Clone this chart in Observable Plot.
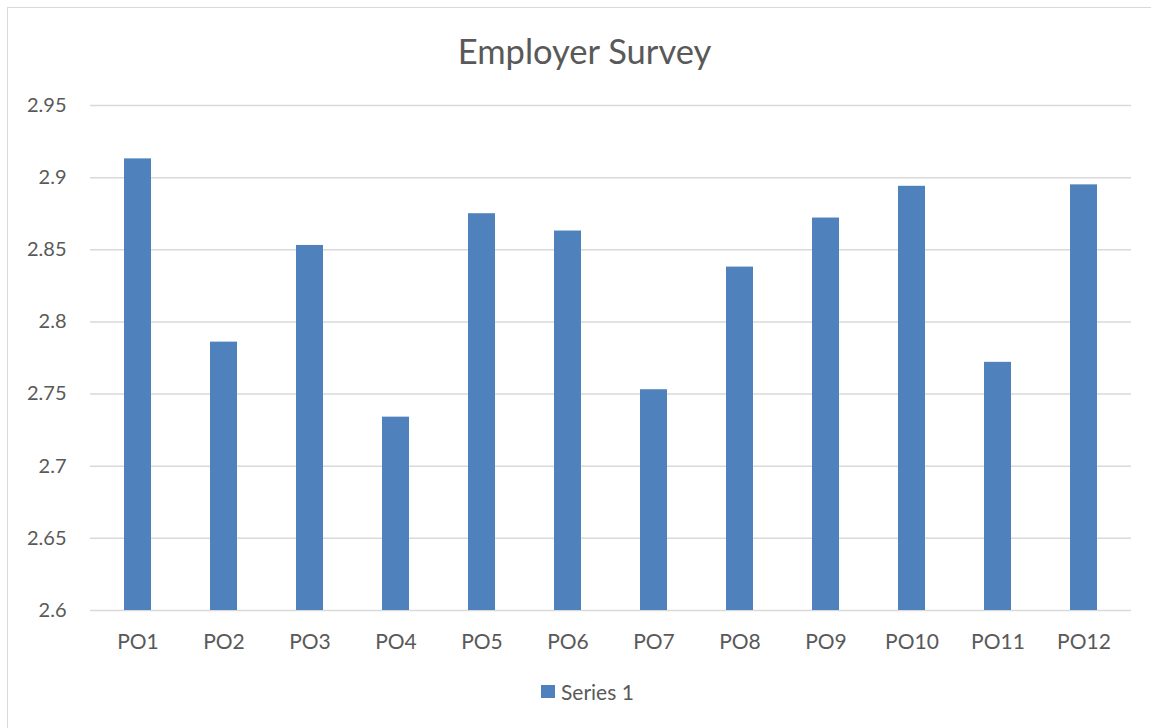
<!DOCTYPE html>
<html>
<head>
<meta charset="utf-8">
<script src="https://cdn.jsdelivr.net/npm/d3@7"></script>
<script src="https://cdn.jsdelivr.net/npm/@observablehq/plot@0.6"></script>
<style>
  html, body { margin: 0; padding: 0; background: #fff; }
  #frame { position: absolute; left: 7px; top: 7px; width: 1150px; height: 730px;
           border-left: 1.5px solid #d9d9d9; border-top: 1.5px solid #d9d9d9; box-sizing: border-box; }
  #title { position: absolute; left: 0; top: 30px; width: 1169px; text-align: center;
           font-family: Lato, "Open Sans", sans-serif; font-size: 34.5px; color: #595959; }
  #chart { position: absolute; left: 0; top: 80px; }
  #legend { position: absolute; left: 541px; top: 679px; font-family: Lato, "Open Sans", sans-serif;
            font-size: 21px; color: #595959; display: flex; align-items: center; }
  #legend .sw { width: 14px; height: 13px; background: #4f81bd; margin-right: 6px; }
</style>
</head>
<body>
<div id="frame"></div>
<div id="title">Employer Survey</div>
<div id="chart"></div>
<div id="legend"><span class="sw"></span><span>Series 1</span></div>
<script>
const categories = ["PO1","PO2","PO3","PO4","PO5","PO6","PO7","PO8","PO9","PO10","PO11","PO12"];
const values = [2.913, 2.786, 2.853, 2.734, 2.875, 2.863, 2.753, 2.838, 2.872, 2.894, 2.772, 2.895];
const yTicks = [2.6, 2.65, 2.7, 2.75, 2.8, 2.85, 2.9, 2.95];
const seriesName = "Series 1";

const data = categories.map((c, i) => ({category: c, value: values[i]}));

const chart = Plot.plot({
  width: 1151,
  height: 590,
  marginTop: 25,
  marginBottom: 60,
  marginLeft: 90,
  marginRight: 20,
  style: {fontFamily: "Lato, 'Open Sans', sans-serif", fontSize: "19px", color: "#595959", background: "transparent"},
  x: {domain: categories, paddingInner: 0.685, paddingOuter: 0.3425, label: null},
  y: {domain: [2.6, 2.95], label: null},
  marks: [
    Plot.gridY(yTicks, {stroke: "#d9d9d9", strokeOpacity: 1, strokeWidth: 1.5}),
    Plot.barY(data, {x: "category", y1: 2.6, y2: "value", fill: "#4f81bd"}),
    Plot.axisY(yTicks, {tickSize: 0, tickPadding: 24, tickFormat: d => String(+d.toFixed(2)), fill: "#595959", fontSize: 20}),
    Plot.axisX({tickSize: 0, tickPadding: 24, fill: "#595959", fontSize: 21})
  ]
});
document.getElementById("chart").appendChild(chart);
</script>
</body>
</html>
